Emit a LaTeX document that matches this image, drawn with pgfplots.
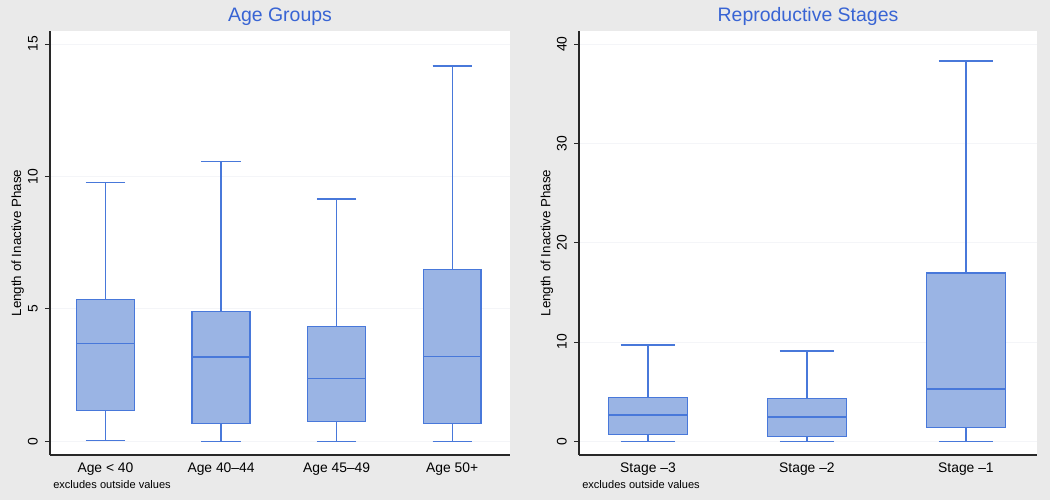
\documentclass[border=0pt]{standalone}
\usepackage{fontspec}
\setmainfont{Liberation Sans}
\usepackage{pgfplots}
\pgfplotsset{compat=1.18}
\usepgfplotslibrary{statistics}
\definecolor{bggray}{RGB}{234,234,234}
\definecolor{boxfill}{RGB}{154,180,228}
\definecolor{boxline}{RGB}{72,120,218}
\definecolor{titleblue}{RGB}{56,100,212}
\definecolor{axisgray}{RGB}{40,40,40}
\definecolor{gridc}{RGB}{244,245,248}
\pgfplotsset{
  panel/.style={
    scale only axis,
    axis background/.style={fill=white},
    axis x line*=bottom, axis y line*=left,
    axis line style={color=axisgray, line width=0.8pt},
    /pgf/number format/assume math mode=true,
    ticklabel style={font=\fontsize{10.4}{12}\selectfont, text=black},
    ytick align=outside,
    major tick length=3.75pt,
    ytick style={color=axisgray, line width=0.7pt},
    xtick style={draw=none},
    xtick={1,2,3,4},
    yticklabel style={rotate=90, anchor=south, inner sep=0pt},
    yticklabel shift=5.3pt,
    xticklabel style={anchor=north, inner sep=0pt},
    xticklabel shift=6pt,
    ymajorgrids, grid style={color=gridc, line width=0.6pt},
    ylabel={Length of Inactive Phase},
    ylabel style={font=\fontsize{10.5}{12}\selectfont},
    every axis y label/.style={at={(axis description cs:-0.07,0.5)}, rotate=90, anchor=center},
    title style={font=\fontsize{14.6}{16}\selectfont, color=titleblue, at={(axis description cs:0.5,1)}, anchor=base, yshift=0.8pt},
    boxplot/draw direction=y,
    every boxplot/.style={draw=boxline, fill=boxfill, line width=1pt, solid},
    cycle list={{draw=boxline, fill=boxfill, line width=1pt}},
  }
}
\begin{document}
\begin{tikzpicture}
\fill[bggray] (0,0) rectangle (787.5pt,375pt);
\begin{axis}[panel,
  at={(37.5pt,33.75pt)}, anchor=south west,
  width=345pt, height=318pt,
  xmin=0.52, xmax=4.5, ymin=-0.52, ymax=15.49,
  ytick={0,5,10,15},
  xticklabels={Age < 40, Age 40–44, Age 45–49, Age 50+},
  title={Age Groups},
]
\addplot+[boxplot prepared={draw position=1, lower whisker=0.04, lower quartile=1.15, median=3.68, upper quartile=5.34, upper whisker=9.76, box extend=0.5, whisker extend=0.34}] coordinates {};
\addplot+[boxplot prepared={draw position=2, lower whisker=0, lower quartile=0.67, median=3.18, upper quartile=4.90, upper whisker=10.56, box extend=0.5, whisker extend=0.34}] coordinates {};
\addplot+[boxplot prepared={draw position=3, lower whisker=0, lower quartile=0.74, median=2.37, upper quartile=4.32, upper whisker=9.14, box extend=0.5, whisker extend=0.34}] coordinates {};
\addplot+[boxplot prepared={draw position=4, lower whisker=0, lower quartile=0.67, median=3.19, upper quartile=6.48, upper whisker=14.17, box extend=0.5, whisker extend=0.34}] coordinates {};
\end{axis}
\begin{axis}[panel,
  at={(434.25pt,33.75pt)}, anchor=south west,
  width=343.5pt, height=318pt,
  xmin=0.566, xmax=3.447, ymin=-1.38, ymax=41.31,
  ytick={0,10,20,30,40},
  xtick={1,2,3},
  xticklabels={Stage –3, Stage –2, Stage –1},
  title={Reproductive Stages},
]
\addplot+[boxplot prepared={draw position=1, lower whisker=0, lower quartile=0.67, median=2.65, upper quartile=4.43, upper whisker=9.7, box extend=0.5, whisker extend=0.34}] coordinates {};
\addplot+[boxplot prepared={draw position=2, lower whisker=0, lower quartile=0.47, median=2.45, upper quartile=4.33, upper whisker=9.1, box extend=0.5, whisker extend=0.34}] coordinates {};
\addplot+[boxplot prepared={draw position=3, lower whisker=0, lower quartile=1.41, median=5.27, upper quartile=16.95, upper whisker=38.3, box extend=0.5, whisker extend=0.34}] coordinates {};
\end{axis}
\node[anchor=base west, inner sep=0pt, font=\fontsize{8.3}{10}\selectfont] at (39.75pt,9pt) {excludes outside values};
\node[anchor=base west, inner sep=0pt, font=\fontsize{8.3}{10}\selectfont] at (436.5pt,9pt) {excludes outside values};
\pgfresetboundingbox
\path[use as bounding box] (0,0) rectangle (787.5pt,375pt);
\end{tikzpicture}
\end{document}
